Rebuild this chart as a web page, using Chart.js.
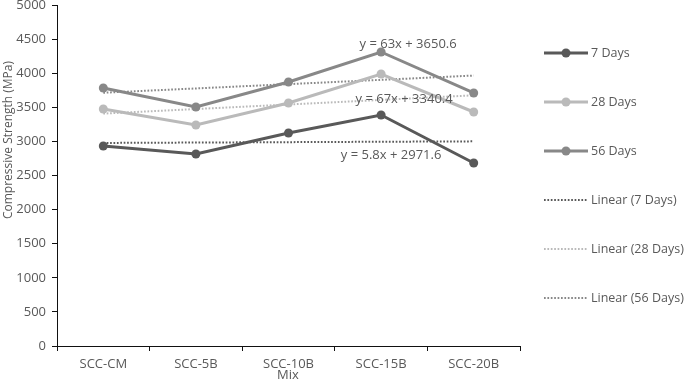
<!DOCTYPE html>
<html>
<head>
<meta charset="utf-8">
<script src="https://cdn.jsdelivr.net/npm/chart.js@4.4.1/dist/chart.umd.min.js"></script>
<style>
  body { margin: 0; background: #fff; }
</style>
</head>
<body>
<canvas id="myChart" width="685" height="382"></canvas>
<script>
const mixes = ["SCC-CM", "SCC-5B", "SCC-10B", "SCC-15B", "SCC-20B"];
const days7 = [2933, 2815, 3123, 3387, 2683];
const days28 = [3475, 3240, 3563, 3988, 3431];
const days56 = [3783, 3504, 3871, 4311, 3710];
// trendline values (y = 5.8x + 2971.6 etc.)
const trend7 = [2977.4, 2983.2, 2989.0, 2994.8, 3000.6];
const trend28 = [3407.4, 3474.4, 3541.4, 3608.4, 3675.4];
const trend56 = [3713.6, 3776.6, 3839.6, 3902.6, 3965.6];
const equations = ["y = 5.8x + 2971.6", "y = 67x + 3340.4", "y = 63x + 3650.6"];
const yTicks = [0, 500, 1000, 1500, 2000, 2500, 3000, 3500, 4000, 4500, 5000];

const font = "'Open Sans', 'Noto Sans', sans-serif";
const textColor = "#595959";
const colors = ["#595959", "#bababa", "#888888"];

var ctx = document.getElementById("myChart");

function lineSet(label, data, color) {
  return {
    label: label,
    data: data,
    borderColor: color,
    backgroundColor: color,
    borderWidth: 3,
    pointRadius: 4.5,
    pointHoverRadius: 4.5,
    pointBorderWidth: 0,
    tension: 0,
  };
}
function trendSet(label, data, color) {
  return {
    label: label,
    data: data,
    borderColor: color,
    borderWidth: 2,
    borderDash: [1.7, 1.7],
    pointRadius: 0,
    tension: 0,
  };
}

const extras = {
  id: "extras",
  afterDraw(chart) {
    const c = chart.ctx;
    const xs = chart.scales.x;
    const ys = chart.scales.y;
    const area = chart.chartArea;
    c.save();
    c.font = "13px " + font;
    c.fillStyle = textColor;
    c.textBaseline = "middle";

    // equation labels near SCC-15B
    c.textAlign = "center";
    const x15 = xs.getPixelForValue(3);
    c.fillText(equations[2], x15 + 27, ys.getPixelForValue(4428));
    c.fillText(equations[1], x15 + 23, ys.getPixelForValue(3622));
    c.fillText(equations[0], x15 + 10, ys.getPixelForValue(2800));

    // axis titles
    c.fillText("Mix", (area.left + area.right) / 2 - 0.5, 375);
    c.save();
    c.translate(9, 140);
    c.rotate(-Math.PI / 2);
    c.font = "12px " + font;
    c.fillText("Compressive Strength (MPa)", 0, 0);
    c.restore();

    // legend
    const items = chart.data.datasets;
    const lx = area.right + 24;
    let ly = 53;
    c.textAlign = "left";
    c.font = "12.5px " + font;
    items.forEach(function (ds, i) {
      c.strokeStyle = ds.borderColor;
      c.lineWidth = ds.borderWidth;
      c.setLineDash(ds.borderDash || []);
      c.beginPath();
      c.moveTo(lx, ly);
      c.lineTo(lx + 44, ly);
      c.stroke();
      c.setLineDash([]);
      if (ds.pointRadius > 0) {
        c.fillStyle = ds.borderColor;
        c.beginPath();
        c.arc(lx + 22, ly, 4.5, 0, Math.PI * 2);
        c.fill();
      }
      c.fillStyle = textColor;
      c.fillText(ds.label, lx + 47, ly);
      ly += 49;
    });
    c.restore();
  },
};

const myChart = new Chart(ctx, {
  type: "line",
  data: {
    labels: mixes,
    datasets: [
      lineSet("7 Days", days7, colors[0]),
      lineSet("28 Days", days28, colors[1]),
      lineSet("56 Days", days56, colors[2]),
      trendSet("Linear (7 Days)", trend7, colors[0]),
      trendSet("Linear (28 Days)", trend28, colors[1]),
      trendSet("Linear (56 Days)", trend56, colors[2]),
    ],
  },
  options: {
    responsive: false,
    animation: false,
    layout: { padding: { top: 5, right: 165, left: 0, bottom: 0 } },
    plugins: {
      legend: { display: false },
      tooltip: { enabled: false },
    },
    scales: {
      x: {
        offset: true,
        grid: {
          offset: true,
          drawOnChartArea: false,
          drawTicks: true,
          tickLength: 5,
          color: "#111",
        },
        border: { color: "#111", width: 1 },
        ticks: {
          color: textColor,
          font: { family: font, size: 13 },
          padding: 5,
          maxRotation: 0,
        },
        afterFit: function (scale) {
          scale.height = 36;
          scale.paddingLeft = 0;
          scale.paddingRight = 0;
        },
      },
      y: {
        min: 0,
        max: 5000,
        afterBuildTicks: function (scale) {
          scale.ticks = yTicks.map(function (v) { return { value: v }; });
        },
        grid: {
          drawOnChartArea: false,
          drawTicks: true,
          tickLength: 5,
          color: "#111",
        },
        border: { color: "#111", width: 1 },
        ticks: {
          color: textColor,
          font: { family: font, size: 13 },
          padding: 6,
          callback: function (value) {
            return String(value);
          },
        },
        afterFit: function (scale) {
          scale.width = 57;
          scale.paddingTop = 0;
          scale.paddingBottom = 0;
        },
      },
    },
  },
  plugins: [extras],
});
</script>
</body>
</html>
